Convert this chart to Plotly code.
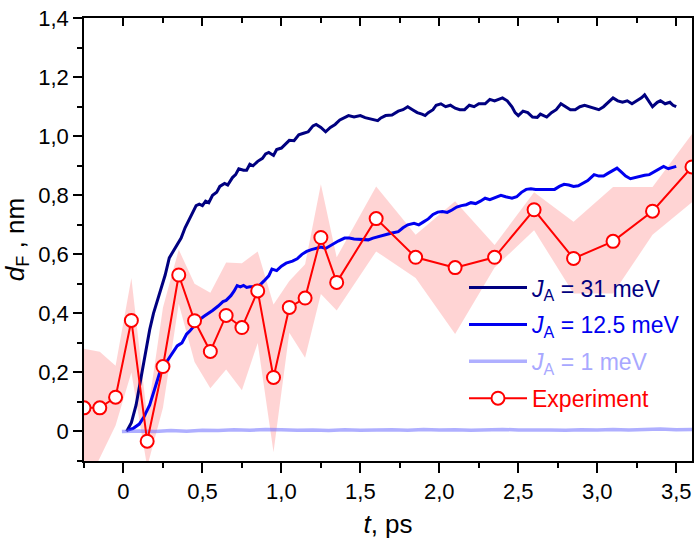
import plotly.graph_objects as go

# ---------------- data ----------------
exp_t = [-0.25, -0.15, -0.05, 0.05, 0.15, 0.25, 0.35, 0.45, 0.55, 0.65, 0.75, 0.85, 0.95,
         1.05, 1.15, 1.25, 1.35, 1.6, 1.85, 2.1, 2.35, 2.6, 2.85, 3.1, 3.35, 3.6]
exp_d = [0.08, 0.08, 0.116, 0.376, -0.033, 0.22, 0.53, 0.375, 0.271, 0.393, 0.352, 0.476, 0.183,
         0.42, 0.452, 0.657, 0.505, 0.721, 0.59, 0.555, 0.59, 0.751, 0.586, 0.644, 0.746, 0.896]
exp_upper = [0.28, 0.27, 0.223, 0.52, 0.05, 0.42, 0.616, 0.50, 0.47, 0.572, 0.57, 0.61, 0.43,
             0.51, 0.566, 0.837, 0.59, 0.83, 0.666, 0.78, 0.632, 0.81, 0.71, 0.828, 0.828, 1.008]
exp_lower = [-0.2, -0.09, 0.02, 0.2, -0.12, 0.08, 0.433, 0.235, 0.146, 0.21, 0.14, 0.3, -0.07,
             0.334, 0.25, 0.466, 0.41, 0.61, 0.52, 0.33, 0.555, 0.682, 0.467, 0.467, 0.666, 0.776]

j31_t = [0.02, 0.05, 0.08, 0.10, 0.12, 0.14, 0.166, 0.19, 0.22, 0.245, 0.264, 0.29, 0.32, 0.34,
         0.365, 0.39, 0.42, 0.44, 0.46, 0.48, 0.50, 0.52, 0.54, 0.564, 0.59, 0.61, 0.64, 0.66,
         0.69, 0.71, 0.73, 0.76, 0.78, 0.80, 0.82, 0.85, 0.88, 0.90, 0.92, 0.95, 0.97, 1.00,
         1.03, 1.05, 1.08, 1.11, 1.14, 1.17, 1.20, 1.22, 1.25, 1.28, 1.31, 1.34, 1.37, 1.40,
         1.425, 1.46, 1.50, 1.53, 1.56, 1.59, 1.61, 1.63, 1.66, 1.70, 1.74, 1.77, 1.80, 1.83,
         1.86, 1.89, 1.91, 1.93, 1.96, 1.98, 2.01, 2.04, 2.07, 2.10, 2.13, 2.16, 2.19, 2.22,
         2.25, 2.29, 2.32, 2.35, 2.38, 2.40, 2.43, 2.46, 2.48, 2.50, 2.53, 2.56, 2.59, 2.62,
         2.64, 2.66, 2.68, 2.71, 2.74, 2.77, 2.80, 2.83, 2.86, 2.89, 2.92, 2.95, 2.98, 3.01,
         3.04, 3.07, 3.10, 3.13, 3.16, 3.19, 3.22, 3.25, 3.28, 3.30, 3.32, 3.35, 3.38, 3.40,
         3.43, 3.46, 3.48, 3.50]
j31_d = [0.0, 0.03, 0.09, 0.15, 0.22, 0.28, 0.345, 0.40, 0.456, 0.50, 0.53, 0.588, 0.615, 0.635,
         0.655, 0.69, 0.72, 0.745, 0.765, 0.77, 0.765, 0.78, 0.775, 0.80, 0.81, 0.83, 0.84, 0.835,
         0.86, 0.87, 0.89, 0.885, 0.885, 0.905, 0.90, 0.915, 0.925, 0.94, 0.945, 0.935, 0.955, 0.96,
         0.975, 0.986, 0.985, 1.005, 1.01, 1.015, 1.035, 1.04, 1.03, 1.015, 1.03, 1.04, 1.055, 1.064,
         1.07, 1.065, 1.07, 1.063, 1.06, 1.055, 1.053, 1.062, 1.07, 1.072, 1.085, 1.09, 1.10, 1.09,
         1.08, 1.075, 1.07, 1.08, 1.09, 1.105, 1.11, 1.10, 1.105, 1.095, 1.09, 1.09, 1.105, 1.10,
         1.11, 1.11, 1.125, 1.12, 1.125, 1.13, 1.12, 1.10, 1.08, 1.07, 1.085, 1.08, 1.065, 1.064,
         1.075, 1.07, 1.065, 1.08, 1.09, 1.11, 1.10, 1.09, 1.09, 1.10, 1.105, 1.10, 1.095, 1.09,
         1.10, 1.115, 1.13, 1.12, 1.115, 1.12, 1.11, 1.12, 1.13, 1.14, 1.125, 1.10, 1.115, 1.12,
         1.11, 1.115, 1.105, 1.10]

j125_t = [0.03, 0.06, 0.10, 0.13, 0.166, 0.20, 0.23, 0.26, 0.29, 0.32, 0.34, 0.355, 0.37, 0.40,
          0.42, 0.45, 0.48, 0.51, 0.54, 0.564, 0.60, 0.63, 0.65, 0.68, 0.70, 0.72, 0.74, 0.76,
          0.78, 0.80, 0.83, 0.86, 0.89, 0.92, 0.94, 0.97, 1.00, 1.03, 1.07, 1.10, 1.13, 1.16,
          1.19, 1.22, 1.25, 1.28, 1.30, 1.33, 1.36, 1.40, 1.43, 1.46, 1.50, 1.53, 1.55, 1.58,
          1.61, 1.64, 1.67, 1.70, 1.74, 1.77, 1.80, 1.84, 1.87, 1.90, 1.93, 1.96, 1.99, 2.02,
          2.05, 2.08, 2.11, 2.14, 2.17, 2.20, 2.23, 2.26, 2.29, 2.32, 2.35, 2.39, 2.42, 2.46,
          2.49, 2.52, 2.55, 2.58, 2.61, 2.64, 2.67, 2.70, 2.73, 2.76, 2.79, 2.82, 2.85, 2.88,
          2.91, 2.94, 2.96, 2.98, 3.01, 3.04, 3.07, 3.10, 3.125, 3.15, 3.18, 3.21, 3.24, 3.27,
          3.30, 3.33, 3.36, 3.39, 3.42, 3.45, 3.48, 3.50]
j125_d = [0.005, 0.01, 0.025, 0.05, 0.09, 0.145, 0.20, 0.225, 0.25, 0.275, 0.29, 0.295, 0.30, 0.33,
          0.34, 0.36, 0.378, 0.39, 0.40, 0.41, 0.425, 0.44, 0.444, 0.46, 0.475, 0.494, 0.49, 0.495,
          0.488, 0.49, 0.49, 0.494, 0.51, 0.527, 0.55, 0.545, 0.56, 0.57, 0.577, 0.585, 0.60, 0.61,
          0.616, 0.62, 0.625, 0.62, 0.627, 0.635, 0.645, 0.655, 0.655, 0.652, 0.65, 0.648, 0.649, 0.655,
          0.66, 0.663, 0.668, 0.672, 0.677, 0.69, 0.70, 0.705, 0.70, 0.71, 0.72, 0.735, 0.743, 0.745,
          0.742, 0.75, 0.76, 0.765, 0.768, 0.775, 0.772, 0.78, 0.79, 0.785, 0.792, 0.80, 0.795, 0.79,
          0.795, 0.81, 0.82, 0.822, 0.82, 0.82, 0.818, 0.82, 0.82, 0.83, 0.837, 0.835, 0.83, 0.832,
          0.84, 0.85, 0.86, 0.87, 0.865, 0.865, 0.875, 0.885, 0.892, 0.88, 0.865, 0.856, 0.86, 0.865,
          0.868, 0.87, 0.88, 0.89, 0.898, 0.89, 0.895, 0.898]

j1_t = [-0.01, 0.1, 0.2, 0.3, 0.4, 0.5, 0.6, 0.7, 0.8, 0.9, 1.0, 1.1, 1.2, 1.3, 1.4, 1.5, 1.6,
        1.7, 1.8, 1.9, 2.0, 2.1, 2.2, 2.3, 2.4, 2.5, 2.6, 2.7, 2.8, 2.9, 3.0, 3.1, 3.2, 3.3,
        3.4, 3.5, 3.6]
j1_d = [0.0, 0.002, 0.0, 0.003, 0.001, 0.004, 0.003, 0.006, 0.004, 0.007, 0.006, 0.004, 0.005,
        0.003, 0.006, 0.004, 0.005, 0.006, 0.004, 0.007, 0.005, 0.006, 0.004, 0.005, 0.007, 0.005,
        0.006, 0.005, 0.004, 0.006, 0.005, 0.007, 0.005, 0.006, 0.008, 0.006, 0.007]

x_tickvals = [0, 0.5, 1.0, 1.5, 2.0, 2.5, 3.0, 3.5]
x_ticktext = ["0", "0,5", "1,0", "1,5", "2,0", "2,5", "3,0", "3,5"]
y_tickvals = [0, 0.2, 0.4, 0.6, 0.8, 1.0, 1.2, 1.4]
y_ticktext = ["0", "0,2", "0,4", "0,6", "0,8", "1,0", "1,2", "1,4"]

NAVY = "#000080"
BLUE = "#0000f0"
LIGHT = "rgba(110,110,255,0.55)"
RED = "#ff0000"
BAND = "rgba(255,0,0,0.17)"
FONT = "Liberation Sans, Arial, Helvetica, sans-serif"

fig = go.Figure()

# uncertainty band
fig.add_trace(go.Scatter(
    x=exp_t + exp_t[::-1], y=exp_upper + exp_lower[::-1],
    fill="toself", fillcolor=BAND, line=dict(width=0), mode="lines",
    hoverinfo="skip", showlegend=False))

fig.add_trace(go.Scatter(
    x=j31_t, y=j31_d, mode="lines", line=dict(color=NAVY, width=3), legendgroup="a",
    name=f'<span style="color:{NAVY}"><i>J</i><sub>A</sub> = 31 meV</span>'))
fig.add_trace(go.Scatter(
    x=j125_t, y=j125_d, mode="lines", line=dict(color=BLUE, width=3), legendgroup="b",
    name=f'<span style="color:{BLUE}"><i>J</i><sub>A</sub> = 12.5 meV</span>'))
fig.add_trace(go.Scatter(
    x=j1_t, y=j1_d, mode="lines", line=dict(color=LIGHT, width=3.5), legendgroup="c",
    name='<span style="color:#a8a8ff"><i>J</i><sub>A</sub> = 1 meV</span>'))
fig.add_trace(go.Scatter(
    x=exp_t, y=exp_d, mode="lines+markers", line=dict(color=RED, width=2), legendgroup="d",
    marker=dict(symbol="circle", size=13, color="white", line=dict(color=RED, width=2)),
    name=f'<span style="color:{RED}">Experiment</span>'))

# invisible trace on top axis for inward ticks
fig.add_trace(go.Scatter(x=[0], y=[0], xaxis="x2", mode="markers",
                         marker=dict(opacity=0), showlegend=False, hoverinfo="skip"))

fig.update_layout(
    width=700, height=540,
    margin=dict(l=84, r=6, t=9, b=79),
    paper_bgcolor="white", plot_bgcolor="white",
    font=dict(family=FONT, size=22, color="black"),
    showlegend=True,
    legend=dict(x=0.625, y=0.44, xanchor="left", yanchor="top",
                bgcolor="rgba(0,0,0,0)", font=dict(size=23, family=FONT),
                itemwidth=58, tracegroupgap=4),
    xaxis=dict(range=[-0.25, 3.6], tickvals=x_tickvals, ticktext=x_ticktext,
               ticks="outside", ticklen=10, tickwidth=1.5, tickcolor="black",
               minor=dict(dtick=0.25, tick0=0, ticks="outside", ticklen=5,
                          tickwidth=1.5, tickcolor="black", showgrid=False),
               showline=True, linecolor="black", linewidth=1.5, mirror=True,
               showgrid=False, zeroline=False, ticklabeloverflow="allow",
               tickfont=dict(size=22),
               title=dict(text="<i>t</i>, ps", font=dict(size=26), standoff=12)),
    xaxis2=dict(range=[-0.25, 3.6], overlaying="x", side="top",
                tickvals=x_tickvals, showticklabels=False,
                ticks="inside", ticklen=8, tickwidth=1.5, tickcolor="black",
                minor=dict(dtick=0.25, tick0=0, ticks="inside", ticklen=5,
                           tickwidth=1.5, tickcolor="black", showgrid=False),
                showline=False, showgrid=False, zeroline=False),
    yaxis=dict(range=[-0.1, 1.4005], tickvals=y_tickvals, ticktext=y_ticktext,
               ticks="outside", ticklen=9, tickwidth=1.5, tickcolor="black",
               minor=dict(dtick=0.1, tick0=0, ticks="outside", ticklen=5,
                          tickwidth=1.5, tickcolor="black", showgrid=False),
               showline=True, linecolor="black", linewidth=1.5, mirror=True,
               showgrid=False, zeroline=False, ticklabeloverflow="allow",
               tickfont=dict(size=22),
               title=dict(text="<i>d</i><sub>F</sub> , nm", font=dict(size=26), standoff=10)),
)

fig.write_html("out.html",
               config={"displayModeBar": False},
               post_script="document.body.style.margin='0';document.body.style.overflow='hidden';")
